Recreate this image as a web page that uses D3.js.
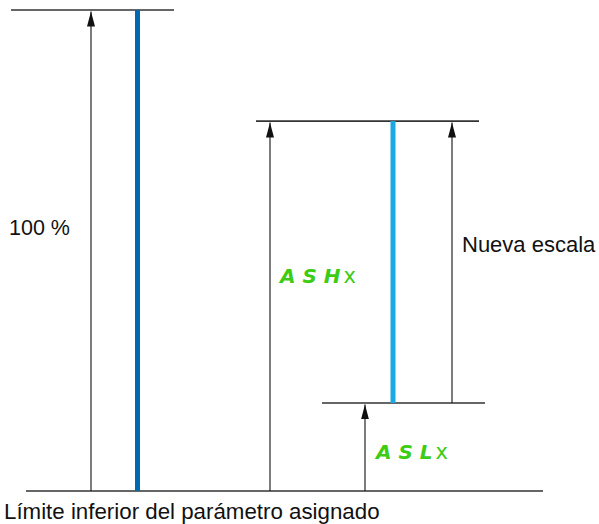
<!DOCTYPE html>
<html><head><meta charset="utf-8">
<script src="https://cdn.jsdelivr.net/npm/d3@7"></script>
<style>body{margin:0;background:#fff}svg{display:block}</style>
</head><body>
<script>
// Data
const fullRange = [0, 100];          // límite inferior .. 100 %
const newScale = [18.3, 76.9];       // ASLx .. ASHx (% del rango)
const labels = {full: "100 %", scale: "Nueva escala", bottom: "Límite inferior del parámetro asignado", ash: ["A S H", "x"], asl: ["A S L", "x"]};

const W = 599, H = 524;
const svg = d3.select("body").append("svg").attr("width", W).attr("height", H);
const y = d3.scaleLinear().domain(fullRange).range([491, 10]);

const defs = svg.append("defs");
defs.append("marker").attr("id", "ah").attr("viewBox", "0 0 15 8").attr("refX", 15).attr("refY", 4)
  .attr("markerWidth", 15).attr("markerHeight", 8).attr("markerUnits", "userSpaceOnUse").attr("orient", "auto")
  .append("path").attr("d", "M0,0 L15,4 L0,8 Z").attr("fill", "#111");

const lineCol = "#333";
function hline(x1, x2, v) {
  svg.append("line").attr("x1", x1).attr("x2", x2).attr("y1", y(v)).attr("y2", y(v))
    .attr("stroke", lineCol).attr("stroke-width", 1.6);
}
function arrow(x, v0, v1) {
  svg.append("line").attr("x1", x).attr("x2", x).attr("y1", y(v0)).attr("y2", y(v1) + 1.5)
    .attr("stroke", "#111").attr("stroke-width", 1.1).attr("marker-end", "url(#ah)");
}
function bar(x, v0, v1, col) {
  svg.append("rect").attr("x", x - 2.5).attr("width", 5).attr("y", y(v1)).attr("height", y(v0) - y(v1)).attr("fill", col);
}

// horizontal reference lines
hline(11, 174, fullRange[1]);
hline(26, 543, fullRange[0]);
hline(256, 479, newScale[1]);
hline(322, 485, newScale[0]);

// arrows
arrow(91, fullRange[0], fullRange[1]);
arrow(270, fullRange[0], newScale[1]);
arrow(452, newScale[0], newScale[1]);
arrow(365, fullRange[0], newScale[0]);

// bars
bar(137.5, fullRange[0], fullRange[1], "#0067b1");
bar(393, newScale[0], newScale[1], "#1ba9e1");

// texts
const font = "Liberation Sans, Arial, sans-serif";
svg.append("text").attr("x", 9).attr("y", 235).attr("font-family", font).attr("font-size", 21.5).attr("fill", "#111").text(labels.full);
svg.append("text").attr("x", 462).attr("y", 252).attr("font-family", font).attr("font-size", 22).attr("fill", "#111").text(labels.scale);
svg.append("text").attr("x", 4).attr("y", 519).attr("font-family", font).attr("font-size", 22.3).attr("fill", "#111").text(labels.bottom);

function code(x, yy, parts) {
  const t = svg.append("text").attr("x", x).attr("y", yy).attr("fill", "#3ccc14").attr("font-family", "DejaVu Sans, sans-serif");
  t.append("tspan").attr("font-size", 20).attr("font-style", "italic").attr("font-weight", "bold").text(parts[0]);
  t.append("tspan").attr("font-size", 21).attr("dx", 3).text(parts[1]);
}
code(280, 283, labels.ash);
code(376, 459, labels.asl);
</script>
</body></html>
